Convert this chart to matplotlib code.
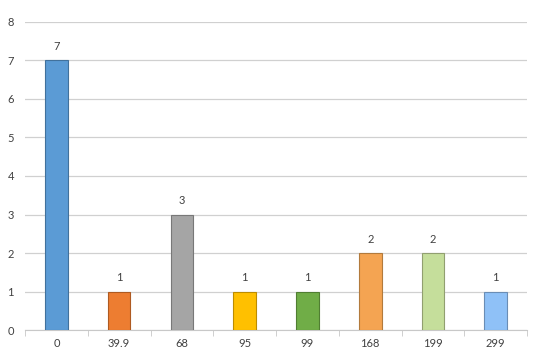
import matplotlib
matplotlib.use('Agg')
import matplotlib.pyplot as plt
import numpy as np

categories = ['0', '39.9', '68', '95', '99', '168', '199', '299']
counts = [7, 1, 3, 1, 1, 2, 2, 1]
colors = ['#5B9BD5', '#ED7D31', '#A5A5A5', '#FFC000', '#70AD47', '#F4A452', '#C5DE9B', '#8FC1F7']
edges = ['#41719C', '#AE5A21', '#787878', '#BC8C00', '#507E32', '#B27A3C', '#919F70', '#6A8DB5']

plt.rcParams['font.family'] = ['Lato', 'DejaVu Sans']

fig = plt.figure(figsize=(5.44, 3.64), dpi=100)
ax = fig.add_axes([0.046, 0.093, 0.923, 0.847])

x = np.arange(len(categories))
bars = ax.bar(x, counts, width=0.36, color=colors, edgecolor=edges, linewidth=0.8, zorder=3)
for xi, v in zip(x, counts):
    ax.text(xi, v + 0.22, str(v), ha='center', va='bottom', fontsize=8, color='#404040')

ax.set_xlim(-0.5, len(categories) - 0.5)
ax.set_ylim(0, 8)
ax.set_yticks(range(9))
ax.yaxis.grid(True, color='#D0D0D0', linewidth=0.9, zorder=0)
ax.set_xticks(x)
ax.set_xticklabels(categories)
ax.set_xticks(np.arange(-0.5, len(categories)), minor=True)
ax.tick_params(axis='x', which='major', length=0, labelsize=8, colors='#404040', pad=6)
ax.tick_params(axis='x', which='minor', length=4, color='#C8C8C8')
ax.tick_params(axis='y', length=0, labelsize=8, colors='#404040', pad=8)
for s in ['top', 'right', 'left']:
    ax.spines[s].set_visible(False)
ax.spines['bottom'].set_color('#C8C8C8')

fig.savefig('out.png', dpi=100)
